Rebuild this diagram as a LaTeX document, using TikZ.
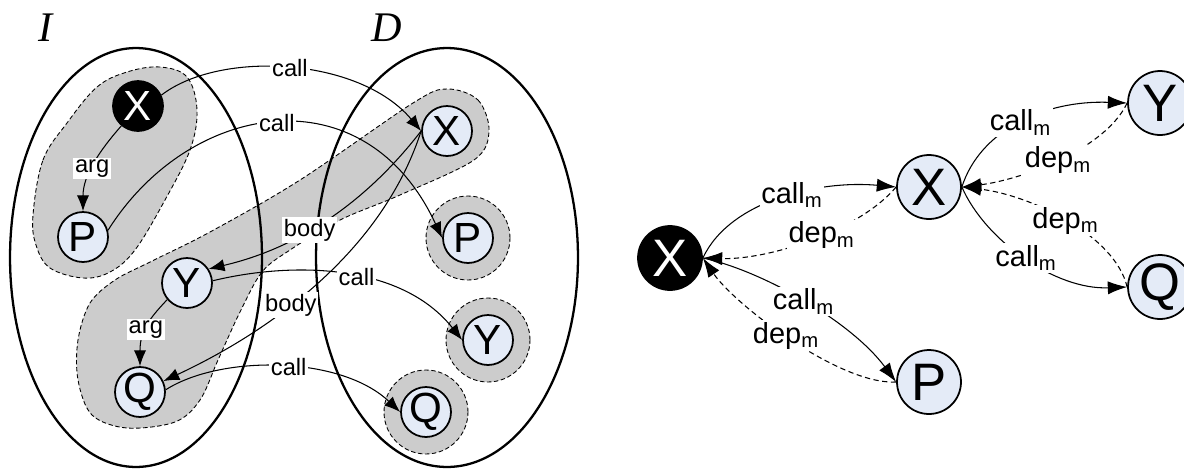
\documentclass[tikz,border=0pt]{standalone}
\usepackage{fontspec}
\setmainfont{Liberation Sans}
\newfontfamily\timesfont{Liberation Serif}
\usetikzlibrary{arrows.meta}
\definecolor{nodefill}{RGB}{228,235,247}
\definecolor{halo}{RGB}{204,204,204}
\begin{document}
\begin{tikzpicture}[x=0.02cm,y=-0.02cm,
 cnode/.style={circle,draw,line width=1pt,fill=nodefill,minimum size=1cm,inner sep=0pt,font=\fontsize{24}{24}\selectfont},
 bnode/.style={cnode,fill=black,text=white},
 rnode/.style={circle,draw,line width=1pt,fill=nodefill,minimum size=1.28cm,inner sep=0pt,font=\fontsize{30}{30}\selectfont},
 rbnode/.style={rnode,fill=black,text=white},
 lbl/.style={fill=white,inner sep=1pt,font=\fontsize{13.5}{14}\selectfont},
 rlbl/.style={fill=white,inner sep=1pt,font=\fontsize{16.5}{17}\selectfont},
 conn/.style={line width=0.6pt,-{Latex[length=9pt,width=7pt]}},
 rconn/.style={line width=0.6pt,-{Latex[length=11pt,width=7.5pt]}},
 dep/.style={rconn,dash pattern=on 3pt off 2pt},
 haloshape/.style={fill=halo,draw,dash pattern=on 2.5pt off 1.5pt,line width=0.5pt},
 setline/.style={draw,line width=1.3pt},
 title/.style={font=\timesfont\itshape\fontsize{24}{24}\selectfont}
]
\useasboundingbox (0,0) rectangle (1184,468);

% halos
\draw[haloshape] plot[smooth cycle,tension=0.6] coordinates {
 (33,215) (43,160) (67,123) (97,87) (127,72) (160,67) (187,77) (197,110)
 (190,150) (165,200) (135,250) (110,272) (83,278) (50,268) (36,245)};
\draw[haloshape] plot[smooth cycle,tension=0.55] coordinates {
 (447,89) (478,100) (489,131) (474,160) (400,195) (340,220) (290,250) (262,272)
 (240,312) (218,360) (200,400) (175,422) (127,428) (92,415) (78,380) (78,340)
 (90,303) (115,280) (150,262) (210,232) (300,180) (413,103)};
\draw[haloshape] (468,238) circle[radius=0.84cm];
\draw[haloshape] (488,340) circle[radius=0.84cm];
\draw[haloshape] (426,412) circle[radius=0.84cm];

% sets
\draw[setline] (136,257.5) ellipse[x radius=2.52cm,y radius=4.19cm];
\draw[setline] (447,257.5) ellipse[x radius=2.62cm,y radius=4.19cm];
\node[title] (tI) at (46,28) {I};
\node[title] (tD) at (387,28) {D};

% left nodes
\node[bnode] (XI) at (138,106) {X};
\node[cnode] (PI) at (83,237) {P};
\node[cnode] (YI) at (187,283) {Y};
\node[cnode] (QI) at (140,392) {Q};
\node[cnode] (XD) at (447,131) {X};
\node[cnode] (PD) at (468,238) {P};
\node[cnode] (YD) at (488,340) {Y};
\node[cnode] (QD) at (426,412) {Q};

% left edges
\draw[conn] (XI.230) .. controls (100,150) and (83,175) .. node[lbl,pos=0.55] {arg} (PI.north);
\draw[conn] (YI.220) .. controls (150,318) and (140,330) .. node[lbl,pos=0.55] {arg} (QI.north);
\draw[conn] (XI.25) .. controls (220,50) and (359,57) .. node[lbl,pos=0.5] {call} (XD.west);
\draw[conn] (PI.15) .. controls (190,100) and (365,72) .. node[lbl,pos=0.5] {call} (PD.west);
\draw[conn] (XD.west) .. controls (360,210) and (290,250) .. node[lbl,pos=0.56] {body} (YI.33);
\draw[conn] (XD.west) .. controls (375,274) and (230,350) .. node[lbl,pos=0.53] {body} (QI.25);
\draw[conn] (YI.5) .. controls (290,262) and (400,262) .. node[lbl,pos=0.55] {call} (YD.west);
\draw[conn] (QI.5) .. controls (220,355) and (340,355) .. node[lbl,pos=0.53] {call} (QD.west);

% right nodes
\node[rbnode] (Xb) at (670,258) {X};
\node[rnode] (Xr) at (929,187) {X};
\node[rnode] (Yr) at (1160,103) {Y};
\node[rnode] (Qr) at (1160,287) {Q};
\node[rnode] (Pr) at (929,382) {P};

% right edges
\draw[rconn] (Xb.east) .. controls (730,200) and (820,180) .. node[rlbl,pos=0.55] {call\textsubscript{m}} (Xr.west);
\draw[dep] (Xr.west) .. controls (860,230) and (770,260) .. node[rlbl,pos=0.45] {dep\textsubscript{m}} (Xb.east);
\draw[rconn] (Xb.east) .. controls (760,270) and (850,320) .. node[rlbl,pos=0.5] {call\textsubscript{m}} (Pr.west);
\draw[dep] (Pr.west) .. controls (840,385) and (735,305) .. node[rlbl,pos=0.52] {dep\textsubscript{m}} (Xb.east);
\draw[rconn] (Xr.east) .. controls (980,130) and (1045,100) .. node[rlbl,pos=0.5] {call\textsubscript{m}} (Yr.west);
\draw[dep] (Yr.west) .. controls (1105,150) and (1020,180) .. node[rlbl,pos=0.5] {dep\textsubscript{m}} (Xr.east);
\draw[rconn] (Xr.east) .. controls (985,240) and (1055,290) .. node[rlbl,pos=0.5] {call\textsubscript{m}} (Qr.west);
\draw[dep] (Qr.west) .. controls (1115,235) and (1030,195) .. node[rlbl,pos=0.5] {dep\textsubscript{m}} (Xr.east);
\end{tikzpicture}
\end{document}
